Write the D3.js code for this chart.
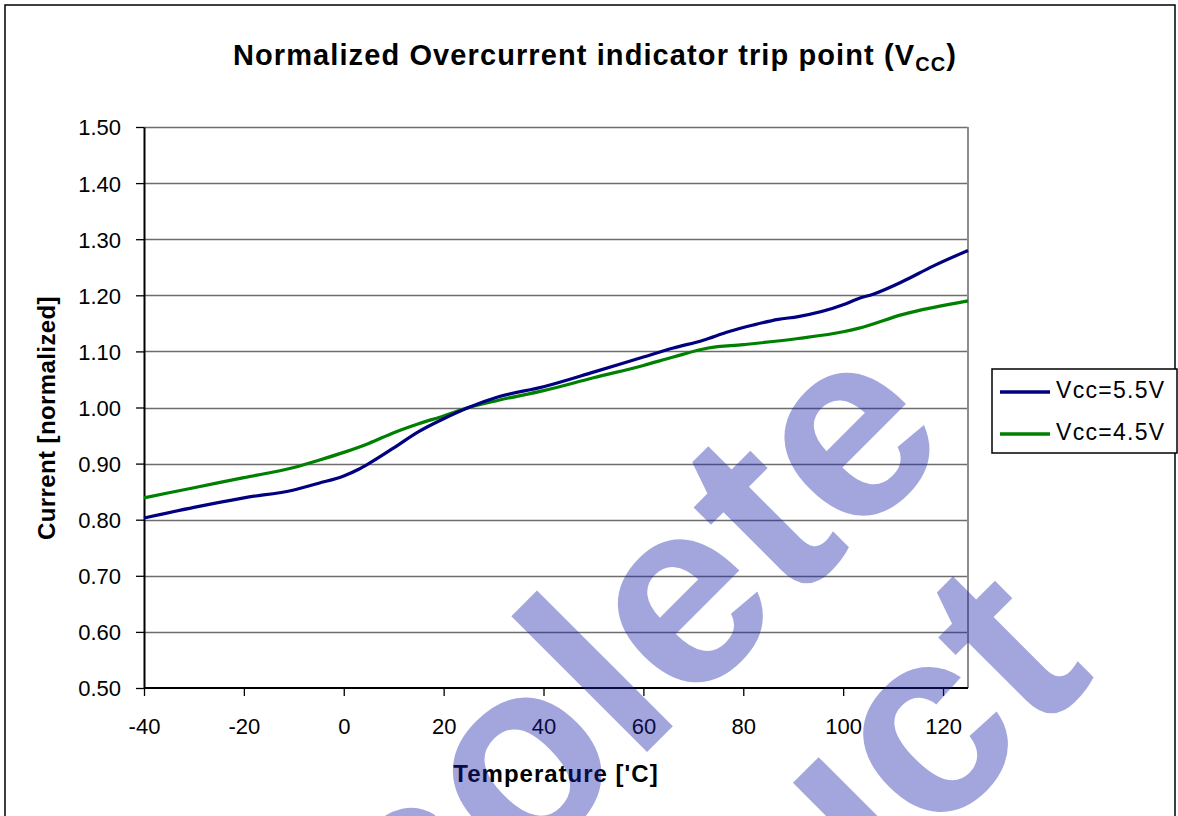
<!DOCTYPE html>
<html>
<head>
<meta charset="utf-8">
<title>Normalized Overcurrent indicator trip point</title>
<script src="https://cdn.jsdelivr.net/npm/d3@7/dist/d3.min.js"></script>
<style>
    body { margin: 0; background: #fff; }
    text { font-family: "Liberation Sans", Arial, sans-serif; }
</style>
</head>
<body>
<div id="chart"></div>
<script>
    // data (temperature in 'C, normalized current)
    var temps55 = [-40, -30, -20, -10, -5, 0, 3, 5, 10, 15, 20, 25, 31, 40, 50, 60, 66, 72, 77, 82, 87, 91, 100, 103, 106, 112, 118, 125];
    var vcc55   = [0.803, 0.822, 0.839, 0.853, 0.865, 0.878, 0.890, 0.900, 0.928, 0.957, 0.980, 1.000, 1.019, 1.037, 1.063, 1.090, 1.106, 1.120, 1.135, 1.147, 1.157, 1.162, 1.183, 1.194, 1.202, 1.225, 1.252, 1.280];
    var temps45 = [-40, -30, -20, -10, -5, 0, 5, 10, 15, 20, 25, 31, 40, 50, 60, 66, 73, 80, 91, 100, 103, 112, 125];
    var vcc45   = [0.839, 0.857, 0.875, 0.893, 0.906, 0.920, 0.936, 0.955, 0.971, 0.985, 1.000, 1.013, 1.030, 1.053, 1.075, 1.090, 1.106, 1.112, 1.123, 1.135, 1.141, 1.166, 1.190];

    var seriesNames  = ["Vcc=5.5V", "Vcc=4.5V"];
    var seriesColors = ["#000080", "#008000"];
    var xTicks = [-40, -20, 0, 20, 40, 60, 80, 100, 120];
    var yTicks = [0.5, 0.6, 0.7, 0.8, 0.9, 1.0, 1.1, 1.2, 1.3, 1.4, 1.5];

    var width = 1178, height = 816;
    var plot = { left: 144, right: 968, top: 127, bottom: 688 };

    var svg = d3.select("#chart").append("svg")
        .attr("width", width)
        .attr("height", height);

    // outer frame
    svg.append("rect")
        .attr("x", 5).attr("y", 5)
        .attr("width", 1170).attr("height", 900)
        .attr("fill", "none").attr("stroke", "#000").attr("stroke-width", 1.5);

    var x = d3.scaleLinear().domain([-40, 125]).range([plot.left, plot.right]);
    var y = d3.scaleLinear().domain([0.5, 1.5]).range([plot.bottom, plot.top]);

    // gridlines
    svg.append("g")
        .selectAll("line")
        .data(yTicks.slice(1))
        .enter().append("line")
        .attr("x1", plot.left).attr("x2", plot.right)
        .attr("y1", function(d){ return Math.round(y(d)) + 0.5; })
        .attr("y2", function(d){ return Math.round(y(d)) + 0.5; })
        .attr("stroke", "#6e6e6e").attr("stroke-width", 1.3);

    // right border of the plot area
    svg.append("line")
        .attr("x1", plot.right).attr("x2", plot.right)
        .attr("y1", plot.top).attr("y2", plot.bottom)
        .attr("stroke", "#8c8c8c").attr("stroke-width", 2);

    // axes (plain hyphen for negatives, like the original)
    var xAxis = d3.axisBottom(x).tickValues(xTicks).tickSize(8).tickSizeOuter(0)
        .tickFormat(function(d){ return String(d); });
    var yAxis = d3.axisLeft(y).tickValues(yTicks).tickSize(8).tickSizeOuter(0)
        .tickFormat(function(d){ return d.toFixed(2); });

    var gx = svg.append("g")
        .attr("transform", "translate(0," + plot.bottom + ")")
        .call(xAxis);
    gx.select(".domain").attr("stroke", "#000").attr("stroke-width", 2)
        .attr("d", "M" + plot.left + ",0H" + plot.right);
    gx.selectAll(".tick line").attr("stroke", "#000").attr("stroke-width", 1.3);
    gx.selectAll(".tick text")
        .attr("y", 46).attr("dy", 0)
        .attr("font-size", "22px").attr("fill", "#000")
        .style("font-family", "'Liberation Sans', Arial, sans-serif");

    var gy = svg.append("g")
        .attr("transform", "translate(" + plot.left + ",0)")
        .call(yAxis);
    gy.select(".domain").attr("stroke", "#000").attr("stroke-width", 2);
    gy.selectAll(".tick line").attr("stroke", "#000").attr("stroke-width", 1.3);
    gy.selectAll(".tick text")
        .attr("x", -23).attr("dy", "0.36em")
        .attr("font-size", "22px").attr("fill", "#000")
        .style("font-family", "'Liberation Sans', Arial, sans-serif");

    // lines
    var line = d3.line()
        .x(function(d){ return x(d[0]); })
        .y(function(d){ return y(d[1]); })
        .curve(d3.curveMonotoneX);

    var series = [
        d3.zip(temps55, vcc55),
        d3.zip(temps45, vcc45)
    ];
    // 4.5V first so 5.5V sits on top
    [1, 0].forEach(function(i){
        svg.append("path")
            .datum(series[i])
            .attr("d", line)
            .attr("fill", "none")
            .attr("stroke", seriesColors[i])
            .attr("stroke-width", 3.2)
            .attr("stroke-linejoin", "round");
    });

    // titles
    var title = svg.append("text")
        .attr("x", 595).attr("y", 65)
        .attr("text-anchor", "middle")
        .attr("font-size", "29px").attr("font-weight", "bold")
        .attr("letter-spacing", "1.1px");
    title.append("tspan").text("Normalized Overcurrent indicator trip point (V");
    title.append("tspan").attr("font-size", "20px").attr("dy", 6).text("CC");
    title.append("tspan").attr("dy", -6).text(")");

    svg.append("text")
        .attr("x", (plot.left + plot.right) / 2).attr("y", 782)
        .attr("text-anchor", "middle")
        .attr("font-size", "24px").attr("font-weight", "bold")
        .attr("letter-spacing", "1px")
        .text("Temperature ['C]");

    svg.append("text")
        .attr("transform", "translate(55,418) rotate(-90)")
        .attr("text-anchor", "middle")
        .attr("font-size", "24px").attr("font-weight", "bold")
        .attr("letter-spacing", "0.4px")
        .text("Current [normalized]");

    // legend
    var legend = svg.append("g");
    legend.append("rect")
        .attr("x", 992).attr("y", 369)
        .attr("width", 185).attr("height", 84)
        .attr("fill", "#fff").attr("stroke", "#000").attr("stroke-width", 1.5);
    var items = legend.selectAll("g.item")
        .data(seriesNames)
        .enter().append("g")
        .attr("class", "item")
        .attr("transform", function(d, i){ return "translate(0," + (392 + i * 42) + ")"; });
    items.append("line")
        .attr("x1", 1000).attr("x2", 1050)
        .attr("stroke", function(d, i){ return seriesColors[i]; })
        .attr("stroke-width", 3.5);
    items.append("text")
        .attr("x", 1056).attr("y", 6)
        .attr("font-size", "23px").attr("letter-spacing", "1.3px")
        .text(function(d){ return d; });

    // "Obsolete Product" stamp over the page
    var stamp = svg.append("g")
        .attr("transform", "translate(556,843) rotate(-45)")
        .attr("fill", "rgb(25,32,167)")
        .attr("fill-opacity", 0.4)
        .attr("font-size", "265px").attr("font-weight", "bold")
        .attr("text-anchor", "middle");
    stamp.append("text").attr("x", 0).attr("y", 0).text("Obsolete");
    stamp.append("text").attr("x", 0).attr("y", 265).text("Product");
</script>
</body>
</html>
